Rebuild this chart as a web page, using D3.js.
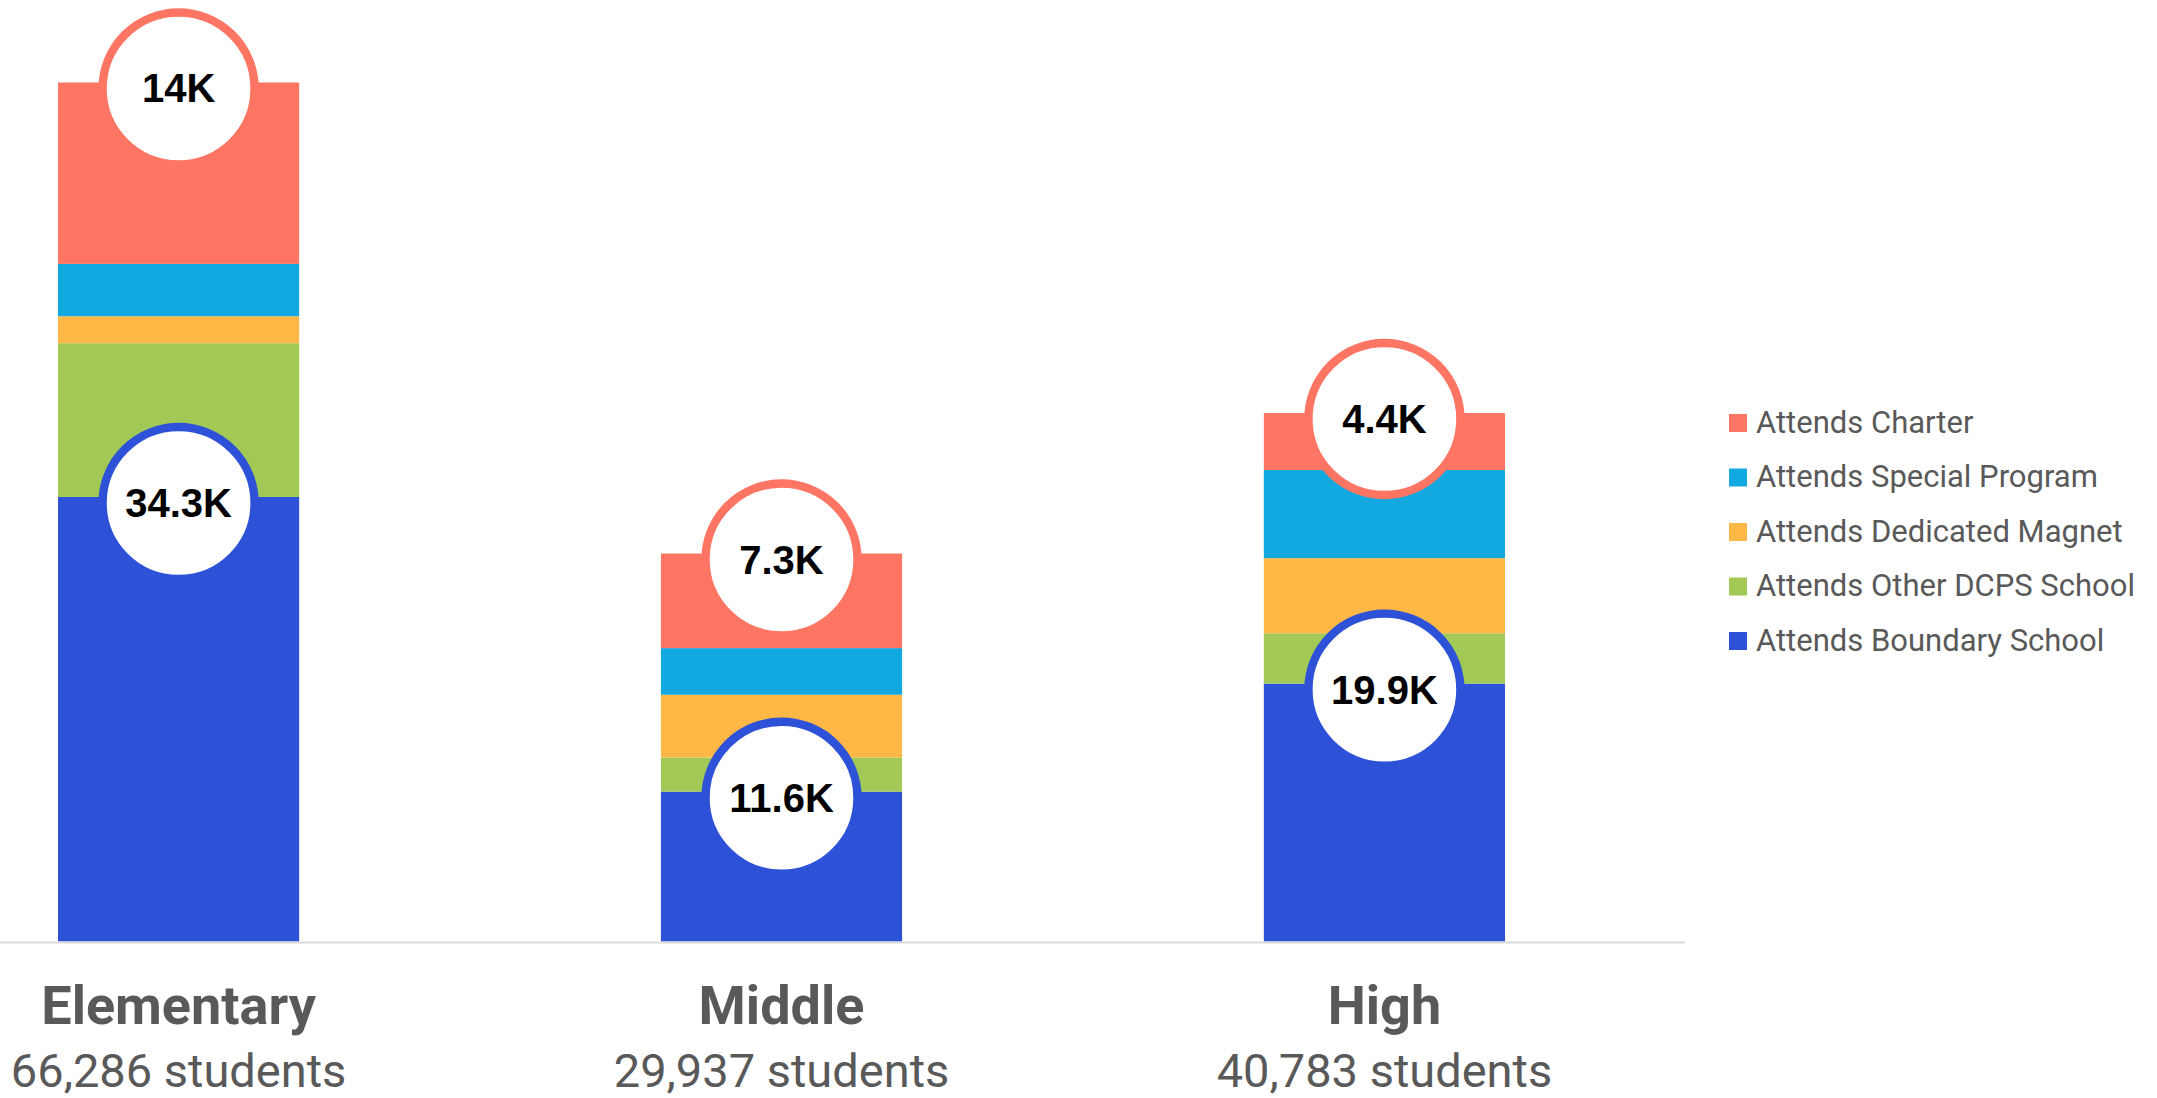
<!DOCTYPE html>
<html>
<head>
<meta charset="utf-8">
<script src="https://cdn.jsdelivr.net/npm/d3@7"></script>
<style>
  body { margin: 0; background: #fff; }
  svg { display: block; }
</style>
</head>
<body>
<div id="chart"></div>
<script>
// Chart data
const categories = ["Elementary", "Middle", "High"];
const seriesNames = ["Attends Boundary School", "Attends Other DCPS School", "Attends Dedicated Magnet", "Attends Special Program", "Attends Charter"];
const seriesColors = ["#2d52d7", "#a2c955", "#ffb845", "#12a9e0", "#ff7563"];
const boundary = [34300, 11560, 19900];
const otherDcps = [11867, 2643, 3882];
const magnet = [2081, 4837, 5800];
const special = [4038, 3597, 6801];
const charter = [14000, 7300, 4400];

// Declare the chart dimensions.
const width = 2157;
const height = 1098;
const baseY = 941.5;

const rows = categories.map((c, i) => ({
    cat: c,
    "Attends Boundary School": boundary[i],
    "Attends Other DCPS School": otherDcps[i],
    "Attends Dedicated Magnet": magnet[i],
    "Attends Special Program": special[i],
    "Attends Charter": charter[i]
}));

const stack = d3.stack().keys(seriesNames)(rows);

const svg = d3.create("svg")
    .attr("width", width)
    .attr("height", height);
document.getElementById("chart").append(svg.node());

// Scales
const x = d3.scaleBand()
    .domain(categories)
    .range([58, 1505])
    .paddingInner(0.6)
    .paddingOuter(0);

const y = d3.scaleLinear()
    .domain([0, 72650])
    .range([baseY, 0]);

const color = d3.scaleOrdinal().domain(seriesNames).range(seriesColors);

// Stacked segments
svg.append("g")
    .selectAll("g")
    .data(stack)
    .join("g")
    .attr("fill", d => color(d.key))
    .selectAll("rect")
    .data(d => d)
    .join("rect")
    .attr("x", d => x(d.data.cat))
    .attr("y", d => y(d[1]))
    .attr("width", x.bandwidth())
    .attr("height", d => y(d[0]) - y(d[1]));

// Baseline
svg.append("line")
    .attr("x1", 0)
    .attr("x2", 1685)
    .attr("y1", baseY + 1)
    .attr("y2", baseY + 1)
    .attr("stroke", "#d9d9d9")
    .attr("stroke-width", 2);

// Circle labels for boundary and charter series
const fmt = v => d3.format(".3~s")(v).toUpperCase();
const labelled = stack.filter(s => s.key === "Attends Boundary School" || s.key === "Attends Charter");
labelled.forEach(s => {
    const g = svg.append("g").selectAll("g")
        .data(s)
        .join("g")
        .attr("transform", d => `translate(${x(d.data.cat) + x.bandwidth() / 2},${y(d[1]) + 6})`);
    g.append("circle")
        .attr("r", 76)
        .attr("fill", "#fff")
        .attr("stroke", color(s.key))
        .attr("stroke-width", 8.4);
    g.append("text")
        .attr("text-anchor", "middle")
        .attr("y", 14)
        .attr("font-family", "'Liberation Sans', Arial, sans-serif")
        .attr("font-weight", "bold")
        .attr("font-size", 40)
        .attr("fill", "#000")
        .text(d => fmt(d[1] - d[0]));
});

// Category labels
const cat = svg.append("g").selectAll("g")
    .data(rows)
    .join("g")
    .attr("transform", d => `translate(${x(d.cat) + x.bandwidth() / 2},0)`);
cat.append("text")
    .attr("text-anchor", "middle")
    .attr("y", 1024)
    .attr("font-family", "Roboto, sans-serif")
    .attr("font-weight", "bold")
    .attr("font-size", 54)
    .attr("fill", "#595959")
    .text(d => d.cat);
cat.append("text")
    .attr("text-anchor", "middle")
    .attr("y", 1087)
    .attr("font-family", "Roboto, sans-serif")
    .attr("font-size", 47)
    .attr("fill", "#595959")
    .text(d => d3.format(",")(d3.sum(seriesNames, k => d[k])) + " students");

// Legend
const legend = svg.append("g").selectAll("g")
    .data(seriesNames.slice().reverse())
    .join("g")
    .attr("transform", (d, i) => `translate(1729,${423 + i * 54.5})`);
legend.append("rect")
    .attr("y", -9)
    .attr("width", 18)
    .attr("height", 18)
    .attr("fill", d => color(d));
legend.append("text")
    .attr("x", 27)
    .attr("y", 9.5)
    .attr("font-family", "Roboto, sans-serif")
    .attr("font-size", 31)
    .attr("fill", "#595959")
    .text(d => d);
</script>
</body>
</html>
